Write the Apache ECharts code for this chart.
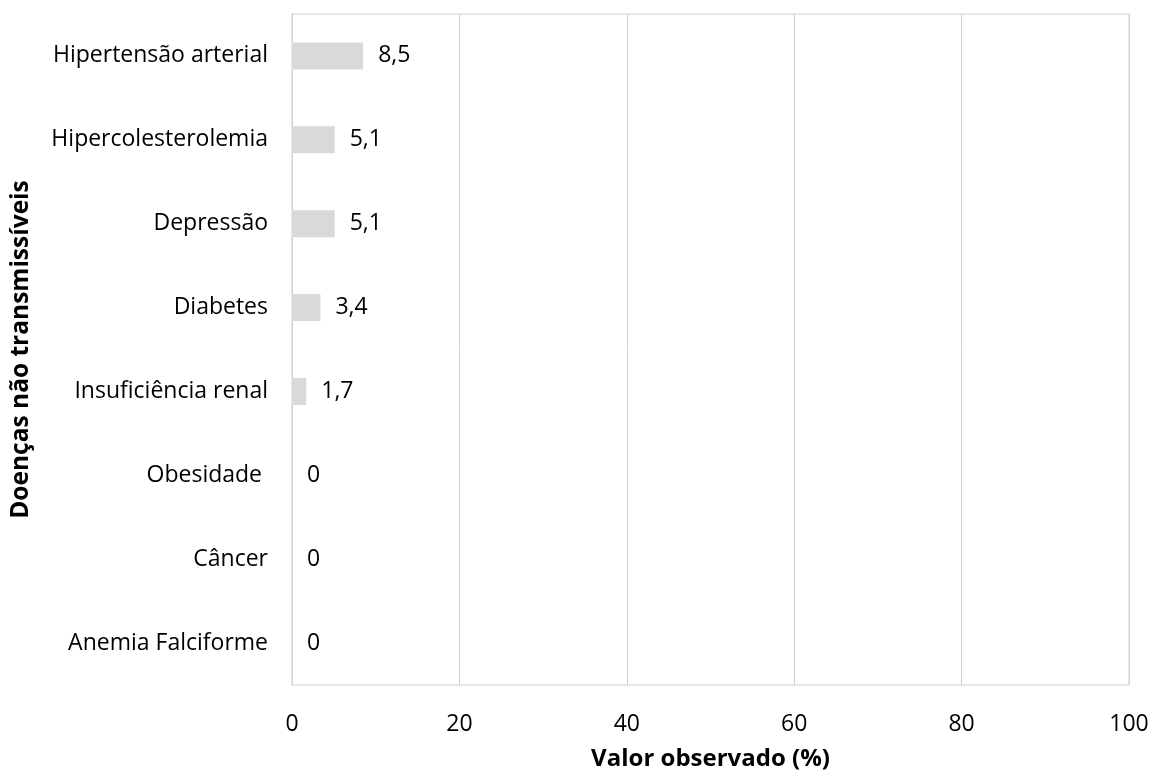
<!DOCTYPE html>
<html><head><meta charset="utf-8">
<script src="https://cdn.jsdelivr.net/npm/echarts@6/dist/echarts.min.js"></script>
<style>html,body{margin:0;padding:0;background:#fff}#c{width:1153px;height:776px}</style>
</head><body><div id="c"></div>
<script>
const categories = ["Hipertensão arterial","Hipercolesterolemia","Depressão","Diabetes","Insuficiência renal","Obesidade ","Câncer","Anemia Falciforme"];
const values = [8.5, 5.1, 5.1, 3.4, 1.7, 0, 0, 0];
const xTicks = [0, 20, 40, 60, 80, 100];
const font = "'Open Sans', 'Noto Sans', sans-serif";
const chart = echarts.init(document.getElementById('c'), null, {renderer:'canvas'});
chart.setOption({
  animation:false,
  grid:{left:292, top:14, width:837, height:673, show:true, borderColor:'#d0d0d0', borderWidth:1, containLabel:false},
  xAxis:{type:'value', min:xTicks[0], max:xTicks[xTicks.length-1], interval:20,
    axisLine:{show:false}, axisTick:{show:false},
    splitLine:{show:true, lineStyle:{color:'#d0d0d0', width:1}},
    axisLabel:{color:'#000', fontSize:23, fontFamily:font, margin:28},
    name:'Valor observado (%)', nameLocation:'middle', nameGap:62,
    nameTextStyle:{color:'#000', fontSize:24, fontWeight:'bold', fontFamily:font}},
  yAxis:{type:'category', data:categories.slice().reverse(), inverse:false,
    axisLine:{show:false}, axisTick:{show:false}, splitLine:{show:false},
    axisLabel:{color:'#000', fontSize:23, fontFamily:font, margin:24},
    name:'Doenças não transmissíveis', nameLocation:'middle', nameGap:258, nameRotate:90,
    nameTextStyle:{color:'#000', fontSize:24.5, fontWeight:'bold', fontFamily:font}},
  series:[{type:'bar', data:values.slice().reverse(), barWidth:27,
    itemStyle:{color:'#d9d9d9'},
    label:{show:true, position:'right', distance:15, color:'#000', fontSize:23, fontFamily:font,
      formatter:p=>String(p.value).replace('.', ',')}}]
});
</script></body></html>
